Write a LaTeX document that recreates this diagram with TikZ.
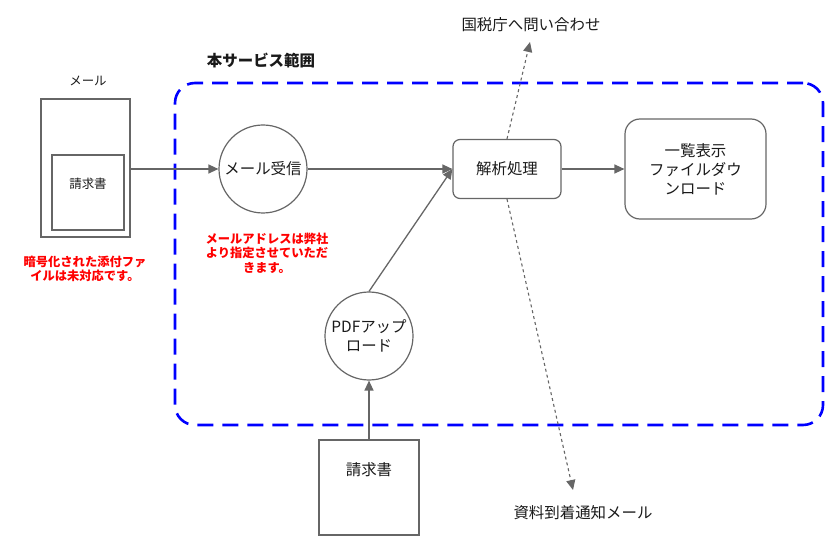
\documentclass[tikz,border=0pt]{standalone}
\usepackage{fontspec}
\setmainfont{Noto Sans CJK JP}
\usetikzlibrary{arrows.meta}
\definecolor{linegray}{HTML}{666666}
\definecolor{txt}{HTML}{1A1A1A}
\definecolor{regionblue}{HTML}{0000FF}
\definecolor{notered}{HTML}{FF0000}
\tikzset{
  box/.style={draw=linegray, line width=1.2bp, fill=white, inner sep=0pt},
  circ/.style={draw=linegray, line width=1.2bp, circle, minimum size=88bp, inner sep=0pt, align=center, font=\fontsize{15.5}{18}\selectfont, text=txt},
  lbl/.style={font=\fontsize{15.5}{18}\selectfont, text=txt, inner sep=0pt, align=center},
  small/.style={font=\fontsize{12.5}{15}\selectfont, text=txt, inner sep=0pt, align=center},
  note/.style={font=\bfseries\fontsize{12.3}{14.5}\selectfont, text=notered, inner sep=0pt, align=center},
  flow/.style={draw=linegray, line width=1.3bp, -{Triangle[width=9bp,length=10bp]}, color=linegray},
  dflow/.style={flow, line width=1.1bp, dash pattern=on 3bp off 3bp},
}
\begin{document}
\begin{tikzpicture}[x=1bp,y=-1bp]
\useasboundingbox (0,0) rectangle (840,543);
% service region
\node[draw=regionblue, line width=2.6bp, dash pattern=on 16bp off 9bp, rounded corners=20bp,
      minimum width=648bp, minimum height=342bp, inner sep=0pt] (region) at (499,254) {};
\node[lbl, font=\bfseries\fontsize{15.5}{18}\selectfont] (title) at (261,61) {本サービス範囲};

% mail
\node[small] (maillabel) at (88,81) {メール};
\node[box, minimum width=89bp, minimum height=138bp] (mailbox) at (85.5,168) {};
\node[box, minimum width=72bp, minimum height=75bp,
      label={[small, anchor=center, yshift=-29bp]north:請求書}] (inner) at (88,192.5) {};
\node[note] (note1) at (85,269) {暗号化された添付ファ\\イルは未対応です。};

% receive
\node[circ] (recv) at (263,169) {メール受信};
\node[note] (note2) at (267,253) {メールアドレスは弊社\\より指定させていただ\\きます。};

% process
\node[box, rounded corners=7bp, minimum width=108bp, minimum height=59bp, lbl] (proc) at (507,169) {解析処理};
\node[box, rounded corners=15bp, minimum width=141bp, minimum height=100bp, lbl,
      font=\fontsize{15.5}{19}\selectfont] (list) at (695.5,169) {一覧表示\\ファイルダウ\\ンロード};

% pdf upload
\node[circ, font=\fontsize{15.5}{19}\selectfont] (pdf) at (369,336) {PDFアップ\\ロード};
\node[box, minimum width=100bp, minimum height=95bp,
      label={[lbl, anchor=center, yshift=-30bp]north:請求書}] (doc) at (369,487.5) {};

% external
\node[lbl] (nta) at (531,25) {国税庁へ問い合わせ};
\coordinate (ntaend) at (530,42);
\node[lbl] (notice) at (583,513) {資料到着通知メール};
\coordinate (noticeend) at (573,490);

% connectors
\draw[flow] (recv.west -| mailbox.east) -- (recv.west);
\draw[flow] (recv.east) -- (proc.west);
\draw[flow] (pdf.north) -- (proc.west);
\draw[flow] (proc.east) -- (list.west);
\draw[flow] (doc.north) -- (pdf.south);
\draw[dflow] (proc.north) -- (ntaend);
\draw[dflow] (proc.south) -- (noticeend);
\end{tikzpicture}
\end{document}
